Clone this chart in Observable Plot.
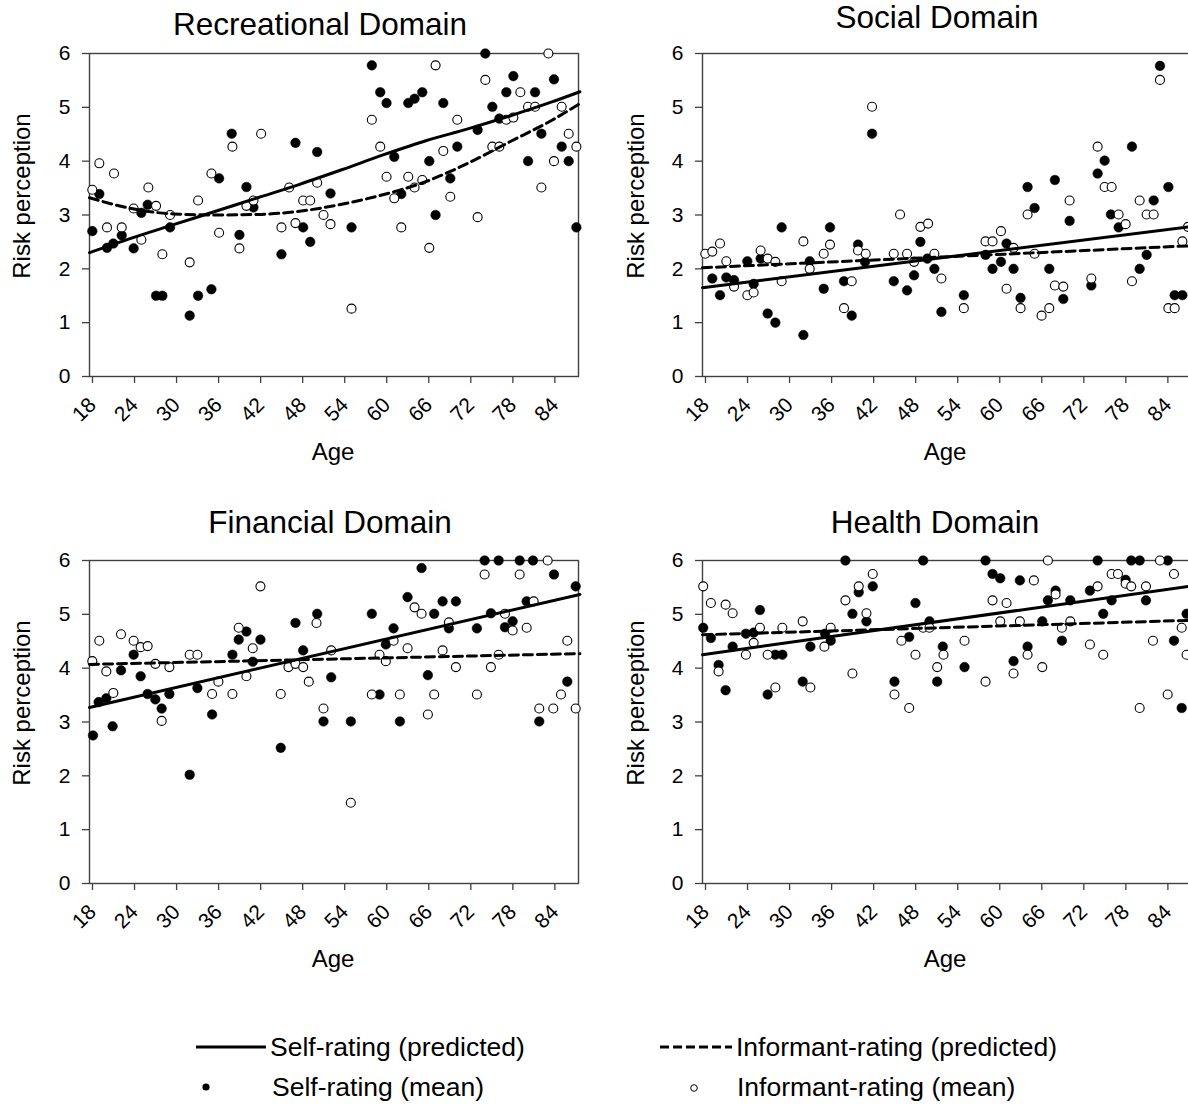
<!DOCTYPE html>
<html><head><meta charset="utf-8">
<script src="https://cdn.jsdelivr.net/npm/d3@7"></script>
<script src="https://cdn.jsdelivr.net/npm/@observablehq/plot@0.6"></script>
<style>
html,body{margin:0;padding:0;background:#fff;overflow:hidden;}
#root{position:relative;width:1188px;height:1104px;overflow:hidden;font-family:"Liberation Sans",Arial,sans-serif;color:#000;background:#fff;}
.abs{position:absolute;}
.title{position:absolute;white-space:nowrap;font-size:31.5px;transform:translate(-50%,0);line-height:1;}
.axt{position:absolute;white-space:nowrap;font-size:24px;line-height:1;}
.ylab{transform:translate(-50%,-50%) rotate(-90deg);}
.xlab{transform:translate(-50%,-50%);}
.leg{position:absolute;white-space:nowrap;font-size:26.5px;line-height:1;transform:translate(0,-50%);}
</style></head>
<body><div id="root"></div>
<script>
// ---------- data ----------
const xTicks = [18, 24, 30, 36, 42, 48, 54, 60, 66, 72, 78, 84];
const yTicks = [0, 1, 2, 3, 4, 5, 6];

// Recreational
const recAgeSelf = [18.4,19.4,20.5,21.4,22.6,24.3,25.4,26.3,27.5,28.4,29.5,32.3,33.5,35.4,36.5,38.3,39.4,40.4,41.4,45.4,47.4,48.5,49.5,50.5,52.4,55.4,58.3,59.5,60.4,61.5,62.5,63.5,64.4,65.5,66.5,67.4,68.5,69.5,70.5,73.4,74.5,75.5,76.5,77.5,78.5,80.6,81.6,82.5,84.3,85.4,86.4,87.5];
const recSelf = [2.70,3.39,2.39,2.47,2.62,2.38,3.04,3.19,1.50,1.50,2.77,1.13,1.50,1.62,3.68,4.51,2.63,3.52,3.14,2.27,4.34,2.77,2.50,4.17,3.40,2.77,5.78,5.28,5.08,4.08,3.39,5.08,5.16,5.28,4.00,3.00,5.08,3.68,4.27,4.58,6.00,5.01,4.79,5.28,5.58,4.00,5.28,4.51,5.52,4.27,4.00,2.77];
const recAgeInf = [18.4,19.4,20.5,21.5,22.6,24.3,25.4,26.4,27.5,28.4,29.5,32.3,33.5,35.4,36.5,38.4,39.4,40.4,41.4,42.5,45.4,46.5,47.4,48.5,49.5,50.5,51.4,52.4,55.4,58.3,59.5,60.4,61.5,62.5,63.5,64.4,65.5,66.5,67.4,68.5,69.5,70.5,73.4,74.5,75.5,76.5,77.5,78.5,79.5,80.6,81.6,82.5,83.5,84.3,85.4,86.4,87.5];
const recInf = [3.47,3.96,2.77,3.77,2.77,3.12,2.54,3.51,3.17,2.27,3.00,2.12,3.27,3.77,2.67,4.27,2.38,3.17,3.27,4.51,2.77,3.51,2.85,3.27,3.27,3.60,3.00,2.83,1.26,4.77,4.27,3.71,3.31,2.77,3.71,3.51,3.65,2.39,5.78,4.19,3.34,4.77,2.96,5.51,4.27,4.27,4.77,4.81,5.28,5.01,5.01,3.51,6.00,4.00,5.01,4.51,4.27];
const recPredAge = [18, 24, 30, 36, 42, 48, 54, 60, 66, 72, 78, 84, 88];
const recSelfPred = [2.30, 2.57, 2.82, 3.07, 3.32, 3.57, 3.84, 4.12, 4.38, 4.60, 4.84, 5.10, 5.29];
const recInfPred = [3.32, 3.12, 3.02, 3.00, 3.01, 3.07, 3.20, 3.38, 3.62, 3.96, 4.36, 4.76, 5.07];

// Social
const socAgeSelf = [19.4,20.5,21.4,22.5,24.4,25.3,26.3,27.3,28.4,29.3,32.4,33.3,35.3,36.2,38.2,39.3,40.2,41.2,42.2,45.3,47.2,48.2,49.1,50.1,51.1,52.1,55.3,58.4,59.4,60.6,61.4,62.4,63.4,64.4,65.4,67.5,68.3,69.5,70.4,73.5,74.4,75.4,76.3,77.4,79.3,80.4,81.4,82.4,83.3,84.5,85.4,86.5];
const socSelf = [1.82,1.51,1.84,1.79,2.14,1.72,2.19,1.17,1.00,2.77,0.77,2.14,1.63,2.77,1.77,1.13,2.45,2.13,4.51,1.77,1.60,1.88,2.50,2.19,2.00,1.20,1.51,2.26,2.00,2.13,2.47,2.00,1.46,3.52,3.13,2.00,3.65,1.44,2.89,1.69,3.77,4.01,3.01,2.77,4.27,2.00,2.26,3.27,5.77,3.52,1.51,1.51];
const socAgeInf = [18.4,19.4,20.5,21.4,22.5,24.4,25.3,26.3,27.3,28.4,29.3,32.4,33.3,35.3,36.2,38.2,39.3,40.2,41.3,42.2,45.3,46.2,47.2,48.2,49.1,50.2,51.1,52.1,55.3,58.4,59.4,60.6,61.4,62.4,63.4,64.4,65.4,66.4,67.5,68.3,69.5,70.4,73.5,74.4,75.4,76.4,77.4,78.4,79.3,80.4,81.4,82.4,83.3,84.5,85.4,86.5,87.3];
const socInf = [2.28,2.32,2.47,2.14,1.67,1.51,1.56,2.34,2.19,2.13,1.77,2.51,2.00,2.28,2.45,1.27,1.77,2.34,2.28,5.01,2.28,3.01,2.28,2.13,2.78,2.84,2.28,1.82,1.27,2.51,2.51,2.70,1.63,2.39,1.27,3.01,2.28,1.13,1.27,1.69,1.67,3.27,1.82,4.27,3.52,3.52,3.01,2.83,1.77,3.27,3.01,3.01,5.51,1.27,1.27,2.51,2.78];
const socPredAge = [18, 88];
const socSelfPred = [1.65, 2.79];
const socInfPred = [2.02, 2.43];

// Financial
const finAgeSelf = [18.5,19.3,20.4,21.3,22.5,24.3,25.3,26.3,27.4,28.3,29.4,32.3,33.4,35.5,38.4,39.3,40.4,41.3,42.4,45.3,47.4,48.5,50.5,51.4,52.5,55.3,58.3,59.4,60.3,61.4,62.3,63.4,65.4,66.3,67.2,68.4,69.3,70.3,73.3,74.4,75.3,76.4,77.3,78.4,79.4,80.4,81.3,82.2,84.3,86.2,87.4];
const finSelf = [2.75,3.37,3.44,2.92,3.96,4.25,3.85,3.52,3.42,3.25,3.52,2.02,3.63,3.14,4.25,4.53,4.68,4.12,4.53,2.52,4.84,4.33,5.01,3.01,3.83,3.01,5.01,3.51,4.44,4.74,3.01,5.32,5.86,3.87,5.01,5.24,4.74,5.24,4.74,6.00,5.02,6.00,4.76,4.87,6.00,5.24,6.00,3.01,5.74,3.75,5.52];
const finAgeInf = [18.4,19.4,20.4,21.4,22.5,24.3,25.3,26.3,27.4,28.3,29.4,32.3,33.4,35.5,36.4,38.4,39.3,40.4,41.3,42.4,45.3,46.4,47.4,48.5,49.3,50.4,51.4,52.5,55.3,58.3,59.4,60.3,61.4,62.3,63.4,64.4,65.4,66.3,67.2,68.4,69.3,70.3,73.3,74.4,75.3,76.4,77.3,78.4,79.4,80.4,81.4,82.2,83.4,84.2,85.3,86.2,87.4];
const finInf = [4.13,4.51,3.94,3.54,4.63,4.51,4.39,4.41,4.08,3.02,4.02,4.25,4.25,3.52,3.75,3.52,4.75,3.85,4.37,5.52,3.52,4.02,4.08,4.02,3.75,4.84,3.25,4.33,1.50,3.51,4.25,4.13,4.51,3.51,4.37,5.13,5.01,3.14,3.51,4.33,4.85,4.02,3.51,5.74,4.02,4.25,5.01,4.70,5.74,4.75,5.24,3.25,6.00,3.25,3.51,4.51,3.25];
const finPredAge = [18, 88];
const finSelfPred = [3.27, 5.37];
const finInfPred = [4.07, 4.27];

// Health
const heaAgeSelf = [18.1,19.2,20.3,21.3,22.3,24.2,25.3,26.2,27.3,28.4,29.4,32.3,33.4,35.5,36.3,38.4,39.4,40.3,41.4,42.3,45.4,47.5,48.4,49.5,50.4,51.5,52.3,55.4,58.4,59.4,60.5,62.4,63.3,64.4,66.5,67.3,68.4,69.3,70.5,73.3,74.4,75.2,76.4,78.4,79.2,80.4,81.3,84.4,85.3,86.4,87.1];
const heaSelf = [4.75,4.56,4.06,3.59,4.40,4.64,4.66,5.08,3.51,4.25,4.25,3.75,4.40,4.64,4.51,6.00,5.01,5.41,4.87,5.52,3.75,4.58,5.21,6.00,4.87,3.75,4.40,4.02,6.00,5.75,5.67,4.13,5.63,4.40,4.87,5.26,5.44,4.51,5.26,5.44,6.00,5.01,5.26,5.64,6.00,6.00,5.26,6.00,4.51,3.26,5.01];
const heaAgeInf = [18.1,19.2,20.3,21.3,22.3,24.2,25.3,26.2,27.3,28.4,29.4,32.3,33.4,35.4,36.3,38.4,39.4,40.3,41.4,42.3,45.4,46.4,47.5,48.4,49.5,50.4,51.5,52.4,55.4,58.4,59.4,60.5,61.4,62.4,63.3,64.4,65.3,66.5,67.3,68.4,69.3,70.5,73.3,74.4,75.2,76.4,77.3,78.4,79.2,80.4,81.3,82.3,83.3,84.4,85.3,86.4,87.1];
const heaInf = [5.52,5.21,3.94,5.18,5.02,4.25,4.47,4.75,4.25,3.64,4.75,4.87,3.64,4.40,4.75,5.26,3.90,5.52,5.02,5.75,3.51,4.51,3.26,4.25,4.75,4.75,4.02,4.25,4.51,3.75,5.26,4.87,5.21,3.90,4.87,4.25,5.63,4.02,6.00,5.37,4.75,4.87,4.44,5.52,4.25,5.75,5.75,5.57,5.52,3.26,5.52,4.51,6.00,3.51,5.75,4.75,4.25];
const heaPredAge = [18, 88];
const heaSelfPred = [4.25, 5.53];
const heaInfPred = [4.62, 4.89];

const titles = ["Recreational Domain", "Social Domain", "Financial Domain", "Health Domain"];
const legendLabels = ["Self-rating (predicted)", "Informant-rating (predicted)", "Self-rating (mean)", "Informant-rating (mean)"];

// ---------- drawing ----------
const root = document.getElementById("root");
const pts = (a, v) => a.map((x, i) => ({age: x, val: v[i]})).filter(d => d.val != null);
const INK = "#404040";
const FONT = "Liberation Sans, Arial, sans-serif";

function addDiv(cls, text, left, top) {
  const d = document.createElement("div");
  d.className = cls; d.textContent = text;
  d.style.left = left + "px"; d.style.top = top + "px";
  root.appendChild(d); return d;
}

function panel(p) {
  const svg = Plot.plot({
    width: p.w, height: 400,
    marginLeft: p.ml, marginRight: p.w - p.ml - 489, marginTop: 13, marginBottom: 64,
    x: {domain: [18, 87.8]},
    y: {domain: [0, 6]},
    style: {fontFamily: FONT, background: "transparent", maxWidth: "none", overflow: "visible"},
    marks: [
      Plot.axisY({ticks: yTicks, tickFormat: d => String(d), tickSize: 7, tickPadding: 12, label: null, stroke: INK, fill: "#000", fontSize: 21, strokeWidth: 1.3}),
      Plot.axisX({ticks: xTicks, tickFormat: d => String(d), tickSize: 7, tickPadding: 18, dx: 3, tickRotate: -45, textAnchor: "end", label: null, stroke: INK, fill: "#000", fontSize: 21, strokeWidth: 1.3}),
      Plot.frame({stroke: INK, strokeWidth: 1.4}),
      Plot.dot(pts(p.aS, p.s), {x: "age", y: "val", r: 4.8, fill: "#000", stroke: "#000", strokeWidth: 0.5}),
      Plot.dot(pts(p.aI, p.i), {x: "age", y: "val", r: 4.5, fill: "#fff", stroke: "#000", strokeWidth: 1.1}),
      Plot.line(pts(p.pa, p.ps), {x: "age", y: "val", stroke: "#000", strokeWidth: 3, curve: "monotone-x"}),
      Plot.line(pts(p.pa, p.pi), {x: "age", y: "val", stroke: "#000", strokeWidth: 3, strokeDasharray: "9,5", curve: "monotone-x"})
    ]
  });
  const wrap = document.createElement("div");
  wrap.className = "abs";
  wrap.style.left = p.left + "px"; wrap.style.top = p.top + "px";
  wrap.appendChild(svg);
  root.appendChild(wrap);
  addDiv("title", p.title, p.tx, p.ty);
  addDiv("axt ylab", "Risk perception", p.yx, p.top + 13 + 143);
  addDiv("axt xlab", "Age", p.xx, p.top + 412);
}

panel({title: titles[0], left: 0, top: 40, w: 600, ml: 89, tx: 320, ty: 9, yx: 22, xx: 333,
  aS: recAgeSelf, s: recSelf, aI: recAgeInf, i: recInf, pa: recPredAge, ps: recSelfPred, pi: recInfPred});
panel({title: titles[1], left: 612, top: 40, w: 590, ml: 90, tx: 937, ty: 2, yx: 636, xx: 945,
  aS: socAgeSelf, s: socSelf, aI: socAgeInf, i: socInf, pa: socPredAge, ps: socSelfPred, pi: socInfPred});
panel({title: titles[2], left: 0, top: 547, w: 600, ml: 89, tx: 330, ty: 507, yx: 22, xx: 333,
  aS: finAgeSelf, s: finSelf, aI: finAgeInf, i: finInf, pa: finPredAge, ps: finSelfPred, pi: finInfPred});
panel({title: titles[3], left: 612, top: 547, w: 590, ml: 90, tx: 935, ty: 507, yx: 636, xx: 945,
  aS: heaAgeSelf, s: heaSelf, aI: heaAgeInf, i: heaInf, pa: heaPredAge, ps: heaSelfPred, pi: heaInfPred});

// ---------- legend ----------
const ns = "http://www.w3.org/2000/svg";
const lg = document.createElementNS(ns, "svg");
lg.setAttribute("width", 1188); lg.setAttribute("height", 1104);
lg.style.position = "absolute"; lg.style.left = "0px"; lg.style.top = "0px";
function el(tag, attrs) { const e = document.createElementNS(ns, tag); for (const k in attrs) e.setAttribute(k, attrs[k]); lg.appendChild(e); }
el("line", {x1: 196, x2: 266, y1: 1047, y2: 1047, stroke: "#000", "stroke-width": 3});
el("line", {x1: 660, x2: 732, y1: 1047, y2: 1047, stroke: "#000", "stroke-width": 3, "stroke-dasharray": "9,4"});
el("circle", {cx: 206, cy: 1087, r: 3.6, fill: "#000"});
el("circle", {cx: 694, cy: 1088, r: 3.3, fill: "#fff", stroke: "#000", "stroke-width": 1});
root.appendChild(lg);
addDiv("leg", legendLabels[0], 270, 1047);
addDiv("leg", legendLabels[1], 736, 1047);
addDiv("leg", legendLabels[2], 272, 1087);
addDiv("leg", legendLabels[3], 737, 1087);
</script>
</body></html>
